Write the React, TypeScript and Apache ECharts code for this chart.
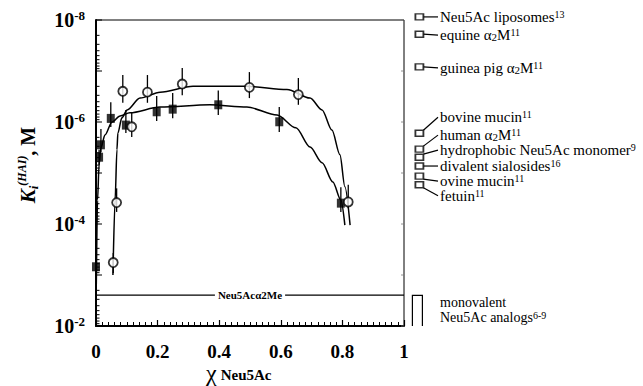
import React, { useEffect, useRef } from "react";
import * as echarts from "echarts";

const SERIF = "'Liberation Serif', 'Times New Roman', serif";

// ---- axes ----
const xTickStep = 0.2;
const yMin = 1e-8;
const yMax = 1e-2;
const yTickExponents = [-8, -7, -6, -5, -4, -3, -2];

// ---- filled squares (series A) ----
const squareX = [0, 0.01, 0.016, 0.048, 0.097, 0.197, 0.249, 0.397, 0.595, 0.795];
const squareY = [6.9e-4, 4.9e-6, 2.8e-6, 8.5e-7, 1.15e-6, 6.3e-7, 5.6e-7, 4.6e-7, 9.9e-7, 3.9e-5];
const squareErrTop = [6.9e-4, 3.5e-6, 1.37e-6, 4.1e-7, 5.8e-7, 3.1e-7, 2.7e-7, 2.4e-7, 5.1e-7, 1.9e-5];
const squareErrBottom = [6.9e-4, 7.0e-6, 3.9e-6, 1.25e-6, 1.64e-6, 9.6e-7, 8.4e-7, 7.3e-7, 1.57e-6, 5.8e-5];

// ---- open circles (series B) ----
const circleX = [0.056, 0.067, 0.087, 0.116, 0.167, 0.28, 0.498, 0.657, 0.819];
const circleY = [5.7e-4, 3.8e-5, 2.5e-7, 1.24e-6, 2.6e-7, 1.8e-7, 2.1e-7, 2.9e-7, 3.7e-5];
const circleErrTop = [3.7e-4, 2.0e-5, 1.2e-7, 6.4e-7, 1.2e-7, 8.7e-8, 1.05e-7, 1.37e-7, 1.7e-5];
const circleErrBottom = [9.1e-4, 5.8e-5, 4.2e-7, 1.97e-6, 4.2e-7, 3.0e-7, 3.4e-7, 4.6e-7, 4.9e-5];

// ---- fitted curves ----
const fitSquareX = [0.001, 0.005, 0.01, 0.016, 0.029, 0.052, 0.078, 0.11, 0.208, 0.37, 0.49, 0.588, 0.649, 0.695, 0.734, 0.769, 0.795, 0.808];
const fitSquareY = [1.5e-3, 3.4e-5, 6.9e-6, 3.2e-6, 1.8e-6, 1.0e-6, 7.6e-7, 6.6e-7, 5.1e-7, 4.6e-7, 5.1e-7, 7.3e-7, 1.3e-6, 3.1e-6, 6.3e-6, 1.5e-5, 3.4e-5, 1.05e-4];
const fitCircleX = [0.055, 0.062, 0.068, 0.071, 0.084, 0.101, 0.143, 0.208, 0.315, 0.49, 0.62, 0.695, 0.734, 0.766, 0.792, 0.808, 0.825];
const fitCircleY = [1.0e-3, 3.4e-5, 3.5e-6, 1.65e-6, 8.3e-7, 5.8e-7, 3.4e-7, 2.6e-7, 2.0e-7, 2.0e-7, 2.3e-7, 3.4e-7, 5.8e-7, 1.44e-6, 4.4e-6, 1.85e-5, 1.05e-4];

// ---- reference line ----
const methylGlycosideValue = 2.47e-3;
const methylGlycosideLabel = "Neu5Acα2Me";

// ---- annotations on the right ----
const annoValues = [8.7e-9, 1.9e-8, 8.3e-8, 1.66e-6, 3.4e-6, 4.9e-6, 7.3e-6, 1.15e-5, 1.7e-5];
const annoLabels = [
  "Neu5Ac liposomes{sup|13}",
  "equine α{sub|2}M{sup|11}",
  "guinea pig α{sub|2}M{sup|11}",
  "bovine mucin{sup|11}",
  "human α{sub|2}M{sup|11}",
  "hydrophobic Neu5Ac monomer{sup|9}",
  "divalent sialosides{sup|16}",
  "ovine mucin{sup|11}",
  "fetuin{sup|11}",
];
const monovalentRange = [2.5e-3, 1e-2];
const monovalentLabel = ["monovalent", "Neu5Ac analogs{sup|6-9}"];

const ANNO_X = 1.05;
const LABEL_DY = [0, 1, 1, -16, -14, -7, 0, 5, 11];

export default function App() {
  const ref = useRef<HTMLDivElement>(null);
  useEffect(() => {
    const chart = echarts.init(ref.current!, null, { renderer: "svg" });

    const yTicks: number[][] = [];
    yTickExponents.forEach((e, i) => {
      if (i === yTickExponents.length - 1) {
        yTicks.push([0, Math.pow(10, e), 1]);
        return;
      }
      for (let m = 1; m <= 9; m++) yTicks.push([0, m * Math.pow(10, e), m === 1 ? 1 : 0]);
    });

    const option: any = {
      animation: false,
      backgroundColor: "#fff",
      grid: { left: 96, top: 20, width: 308, height: 306, show: true, borderColor: "#000", borderWidth: 1 },
      xAxis: {
        type: "value",
        min: 0,
        max: 1,
        interval: xTickStep,
        axisLine: { lineStyle: { color: "#000", width: 2 } },
        axisTick: { inside: true, length: 6, lineStyle: { color: "#000", width: 1.2 } },
        minorTick: { show: true, splitNumber: 10, length: 4, lineStyle: { color: "#000", width: 1 } },
        splitLine: { show: false },
        axisLabel: { margin: 16, color: "#000", fontFamily: SERIF, fontWeight: "bold", fontSize: 19 },
      },
      yAxis: {
        type: "log",
        logBase: 10,
        min: yMin,
        max: yMax,
        inverse: true,
        axisLine: { lineStyle: { color: "#000", width: 2 } },
        axisTick: { show: false },
        splitLine: { show: false },
        axisLabel: {
          margin: 11,
          color: "#000",
          formatter: (v: number) => {
            const e = Math.round(Math.log10(v));
            return e % 2 === 0 ? `{b|10}{s|${e}}` : "";
          },
          rich: {
            b: { fontFamily: SERIF, fontWeight: "bold", fontSize: 20, lineHeight: 22, color: "#000" },
            s: { fontFamily: SERIF, fontWeight: "bold", fontSize: 13, lineHeight: 13, verticalAlign: "top", color: "#000" },
          },
        },
      },
      series: [
        {
          type: "custom",
          silent: true,
          clip: false,
          data: yTicks,
          encode: { x: 0, y: 1 },
          renderItem: (_p: any, api: any) => {
            const p = api.coord([0, api.value(1)]);
            const len = api.value(2) ? 6 : 3.5;
            const q = api.coord([1, api.value(1)]);
            const children: any[] = [
              { type: "line", shape: { x1: p[0], y1: p[1], x2: p[0] + len, y2: p[1] }, style: { stroke: "#000", lineWidth: 1 } },
            ];
            if (api.value(2)) {
              children.push({ type: "line", shape: { x1: q[0], y1: q[1], x2: q[0] - 3, y2: q[1] }, style: { stroke: "#777", lineWidth: 0.8 } });
            }
            return { type: "group", children };
          },
          z: 5,
        },
        {
          type: "custom",
          silent: true,
          data: squareX.map((x, i) => [x, squareErrTop[i], squareErrBottom[i]]),
          encode: { x: 0, y: [1, 2] },
          renderItem: (_p: any, api: any) => {
            const a = api.coord([api.value(0), api.value(1)]);
            const b = api.coord([api.value(0), api.value(2)]);
            return { type: "line", shape: { x1: a[0], y1: a[1], x2: b[0], y2: b[1] }, style: { stroke: "#000", lineWidth: 1.3 } };
          },
          z: 2,
        },
        {
          type: "custom",
          silent: true,
          data: circleX.map((x, i) => [x, circleErrTop[i], circleErrBottom[i]]),
          encode: { x: 0, y: [1, 2] },
          renderItem: (_p: any, api: any) => {
            const a = api.coord([api.value(0), api.value(1)]);
            const b = api.coord([api.value(0), api.value(2)]);
            return { type: "line", shape: { x1: a[0], y1: a[1], x2: b[0], y2: b[1] }, style: { stroke: "#000", lineWidth: 1.3 } };
          },
          z: 2,
        },
        {
          type: "line",
          data: fitSquareX.map((x, i) => [x, fitSquareY[i]]),
          smooth: 0.3,
          smoothMonotone: "x",
          showSymbol: false,
          clip: false,
          lineStyle: { color: "#000", width: 1.5 },
          z: 3,
        },
        {
          type: "line",
          data: fitCircleX.map((x, i) => [x, fitCircleY[i]]),
          smooth: 0.3,
          smoothMonotone: "x",
          showSymbol: false,
          clip: false,
          lineStyle: { color: "#000", width: 1.5 },
          z: 3,
        },
        {
          type: "line",
          data: [[0, methylGlycosideValue], [1, methylGlycosideValue]],
          showSymbol: false,
          lineStyle: { color: "#000", width: 1.3 },
          z: 3,
        },
        {
          type: "scatter",
          data: squareX.map((x, i) => [x, squareY[i]]),
          symbol: "rect",
          symbolSize: [8, 9],
          itemStyle: { color: "#000" },
          clip: false,
          z: 4,
        },
        {
          type: "scatter",
          data: circleX.map((x, i) => [x, circleY[i]]),
          symbol: "circle",
          symbolSize: 9,
          itemStyle: { color: "#fff", borderColor: "#000", borderWidth: 1.8 },
          clip: false,
          z: 4,
        },
        {
          type: "scatter",
          data: annoValues.map((v) => [ANNO_X, v]),
          symbol: "rect",
          symbolSize: [8, 6],
          itemStyle: { color: "#fff", borderColor: "#000", borderWidth: 1.6 },
          clip: false,
          z: 4,
        },
      ],
    };
    chart.setOption(option);

    const px = (x: number, y: number) => chart.convertToPixel({ gridIndex: 0 } as any, [x, y]) as number[];
    const textStyleBase = { fontFamily: SERIF, fontSize: 15, fill: "#000" };
    const richAnno = {
      sup: { fontFamily: SERIF, fontSize: 10, verticalAlign: "top", lineHeight: 10, fill: "#000" },
      sub: { fontFamily: SERIF, fontSize: 11, verticalAlign: "bottom", lineHeight: 11, fill: "#000" },
    };
    const graphics: any[] = [];
    const textX = 440;
    annoValues.forEach((v, i) => {
      const [sx, sy] = px(ANNO_X, v);
      const ty = sy + LABEL_DY[i];
      const startY = Math.abs(LABEL_DY[i]) < 2 ? sy : sy + (LABEL_DY[i] < 0 ? -3 : 3);
      graphics.push({
        type: "line",
        shape: { x1: sx + 4, y1: startY, x2: textX - 2, y2: ty },
        style: { stroke: "#000", lineWidth: 1.2 },
      });
      graphics.push({
        type: "text",
        x: textX,
        y: ty,
        style: { ...textStyleBase, text: annoLabels[i], rich: richAnno, verticalAlign: "middle", align: "left" },
      });
    });

    // monovalent bracket
    const [bx, byTop] = px(ANNO_X, monovalentRange[0]);
    const [, byBot] = px(ANNO_X, monovalentRange[1]);
    graphics.push({
      type: "polyline",
      shape: { points: [[bx - 7, byBot], [bx - 7, byTop], [bx + 3, byTop], [bx + 3, byBot]] },
      style: { stroke: "#000", lineWidth: 1.2, fill: "none" },
    });
    graphics.push({
      type: "text",
      x: textX,
      y: byTop + 7,
      style: { ...textStyleBase, fontSize: 14, lineHeight: 14, text: monovalentLabel[0], verticalAlign: "middle" },
    });
    graphics.push({
      type: "text",
      x: textX,
      y: byTop + 22,
      style: { ...textStyleBase, fontSize: 14, lineHeight: 14, text: monovalentLabel[1], rich: richAnno, verticalAlign: "middle" },
    });

    // reference line label
    const [mx, my] = px(0.5, methylGlycosideValue);
    graphics.push({
      type: "text",
      x: mx,
      y: my,
      z: 10,
      style: {
        text: methylGlycosideLabel,
        fontFamily: SERIF,
        fontWeight: "bold",
        fontSize: 11,
        fill: "#000",
        align: "center",
        verticalAlign: "middle",
        backgroundColor: "#fff",
        padding: [1, 3],
      },
    });

    // axis titles
    graphics.push({
      type: "text",
      x: 28,
      y: 165,
      rotation: Math.PI / 2,
      style: {
        text: "{k|K}{i|i}{h|(HAI)}{m|, M}",
        align: "center",
        verticalAlign: "middle",
        rich: {
          k: { fontFamily: SERIF, fontStyle: "italic", fontWeight: "bold", fontSize: 21, lineHeight: 24, fill: "#000" },
          i: { fontFamily: SERIF, fontStyle: "italic", fontWeight: "bold", fontSize: 13, verticalAlign: "bottom", lineHeight: 13, fill: "#000" },
          h: { fontFamily: SERIF, fontStyle: "italic", fontWeight: "bold", fontSize: 12, verticalAlign: "top", lineHeight: 12, fill: "#000" },
          m: { fontFamily: SERIF, fontWeight: "bold", fontSize: 20, lineHeight: 24, fill: "#000" },
        },
      },
    });
    graphics.push({
      type: "text",
      x: 206,
      y: 373,
      style: {
        text: "{c|χ}{s|Neu5Ac}",
        align: "left",
        verticalAlign: "middle",
        rich: {
          c: { fontFamily: SERIF, fontSize: 24, lineHeight: 18, fill: "#000" },
          s: { fontFamily: SERIF, fontWeight: "bold", fontSize: 15, verticalAlign: "bottom", lineHeight: 12, fill: "#000", padding: [0, 0, 0, 4] },
        },
      },
    });

    chart.setOption({ graphic: graphics });
    return () => chart.dispose();
  }, []);
  return <div ref={ref} style={{ position: "absolute", left: 0, top: 0, width: 643, height: 386 }} />;
}
